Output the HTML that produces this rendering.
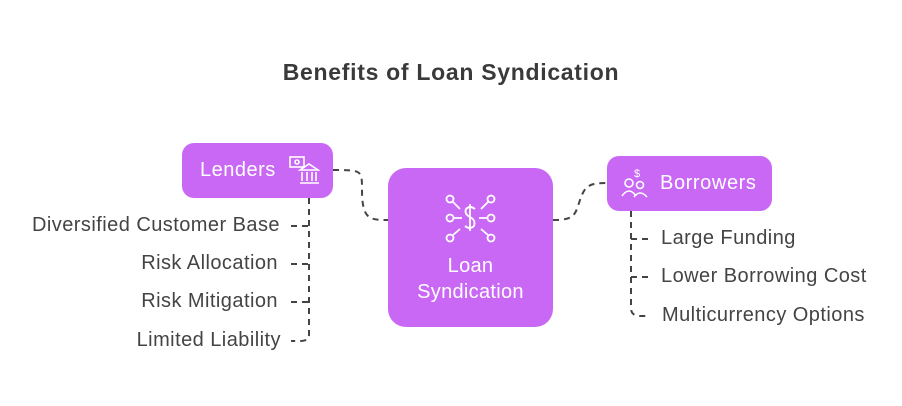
<!DOCTYPE html>
<html><head><style>
body{margin:0;width:902px;height:406px;background:#fff;font-family:"Liberation Sans",sans-serif;position:relative;overflow:hidden}
.t{position:absolute;font-size:20px;letter-spacing:0.45px;color:#444;white-space:nowrap}
.box{position:absolute;background:#c968f5;border-radius:12px;color:#fff}
</style></head><body>
<div style="position:absolute;left:0;width:902px;top:59px;text-align:center;font-size:23px;letter-spacing:0.7px;font-weight:bold;color:#3a3a3a">Benefits of Loan Syndication</div>
<svg width="902" height="406" style="position:absolute;left:0;top:0">
<g fill="none" stroke="#444" stroke-width="2" stroke-dasharray="6,5">
<path d="M333 170 C362 170,362 170,362 190 C362 220,370 220,388 220"/>
<path d="M553 220 C575 220,575 215,580 200 C585 185,590 183,607 183"/>
<path d="M309 198 V335 Q309 341 300 341 H291"/>
<path d="M291 226 H309 M291 264 H309 M291 302 H309"/>
<path d="M631 211 V308 Q631 316 640 316 H650"/>
<path d="M631 239 H650 M631 277 H650"/>
</g>
</svg>
<div class="box" style="left:182px;top:143px;width:151px;height:55px">
<div style="position:absolute;left:18px;top:16px;font-size:20px;letter-spacing:0.5px">Lenders</div>
<svg width="34" height="34" style="position:absolute;left:106px;top:10px" fill="none" stroke="#fff" stroke-width="1.6"><rect x="2" y="4" width="14" height="10"/><circle cx="9" cy="9" r="2"/><path d="M12 17 L21 11 L30 17 Z M14 19 V28 M19 19 V28 M24 19 V28 M28 19 V28 M12 30 H31"/></svg>
</div>
<div class="box" style="left:388px;top:168px;width:165px;height:159px;border-radius:18px">
<svg width="165" height="90" style="position:absolute;left:0;top:0">
<g fill="none" stroke="#fff" stroke-width="1.8">
<circle cx="62" cy="31" r="3.5"/><circle cx="103" cy="31" r="3.5"/>
<circle cx="62" cy="50" r="3.5"/><circle cx="103" cy="50" r="3.5"/>
<circle cx="62" cy="70" r="3.5"/><circle cx="103" cy="70" r="3.5"/>
<path d="M65 34 L72 41 M100 34 L93 41 M66 50 H74 M99 50 H91 M65 67 L72 61 M100 67 L93 61"/>
<path d="M87 41 Q82 37 78 41 Q76 46 82 49 Q88 52 86 58 Q82 62 77 58 M82 36 V63"/>
</g>
</svg>
<div style="position:absolute;left:0;width:165px;top:85px;text-align:center;font-size:20px;line-height:26px;letter-spacing:0.3px">Loan<br>Syndication</div>
</div>
<div class="box" style="left:607px;top:156px;width:165px;height:55px">
<svg width="34" height="34" style="position:absolute;left:12px;top:10px" fill="none" stroke="#fff" stroke-width="1.6"><circle cx="10" cy="17" r="4"/><circle cx="21" cy="19" r="3.5"/><path d="M3 30 Q10 20 17 30 M15 31 Q21 23 28 31"/><text x="15" y="11" fill="#fff" stroke="none" font-size="11" font-family="Liberation Sans">$</text></svg>
<div style="position:absolute;left:53px;top:16px;font-size:20px;letter-spacing:0.6px">Borrowers</div>
</div>
<div class="t" style="right:622px;top:214px">Diversified Customer Base</div>
<div class="t" style="right:624px;top:252px">Risk Allocation</div>
<div class="t" style="right:624px;top:290px">Risk Mitigation</div>
<div class="t" style="right:621px;top:329px">Limited Liability</div>
<div class="t" style="left:661px;top:227px">Large Funding</div>
<div class="t" style="left:661px;top:265px">Lower Borrowing Cost</div>
<div class="t" style="left:662px;top:304px">Multicurrency Options</div>
</body></html>
